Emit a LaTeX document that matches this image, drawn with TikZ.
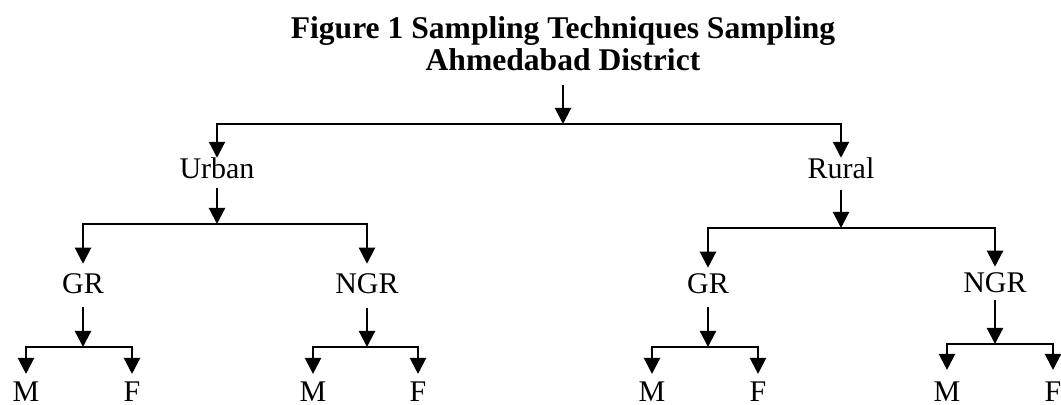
\documentclass[tikz,border=0pt]{standalone}
\usepackage{fontspec}
\setmainfont{Liberation Serif}
\usetikzlibrary{arrows.meta}

\begin{document}
\begin{tikzpicture}[x=0.5pt,y=0.5pt,
      lbl/.style={
        inner sep=0pt,
        anchor=base,
        font=\fontsize{15}{18}\selectfont
      },
      link/.style={
        -{Triangle[length=8pt,width=8pt]},
        line width=1.1pt
      }
    ]
    \clip (0,0) rectangle (1061,405);
    \node[inner sep=0pt,anchor=north,align=center,
      font=\fontsize{15.8}{16}\selectfont\bfseries] (title) at (563,389)
      {Figure 1 Sampling Techniques Sampling\\Ahmedabad District};
    % urban / rural
    \node[lbl] (urban) at (217,226) {Urban};
    \node[lbl] (rural) at (841,226) {Rural};
    \coordinate (j0) at (563,281);
    \draw[link,shorten <=7pt] (title) -- (j0);
    \draw[link] (j0) -| (urban);
    \draw[link] (j0) -| (rural);
    % GR / NGR
    \node[lbl] (ugr) at (83,111) {GR};
    \node[lbl] (ungr) at (367,111) {NGR};
    \node[lbl] (rgr) at (708,111) {GR};
    \node[lbl] (rngr) at (995,112) {NGR};
    \coordinate (ju) at (217,181);
    \coordinate (jr) at (841,177);
    \draw[link,shorten <=4pt] (urban) -- (ju);
    \draw[link,shorten <=5pt] (rural) -- (jr);
    \draw[link,shorten >=5pt] (ju) -| (ugr);
    \draw[link,shorten >=5pt] (ju) -| (ungr);
    \draw[link,shorten >=3pt] (jr) -| (rgr);
    \draw[link,shorten >=3pt] (jr) -| (rngr);
    % M / F
    \node[lbl] (ugrm) at (26,3) {M};
    \node[lbl] (ugrf) at (132,3) {F};
    \node[lbl] (ungrm) at (313,3) {M};
    \node[lbl] (ungrf) at (418,3) {F};
    \node[lbl] (rgrm) at (652,3) {M};
    \node[lbl] (rgrf) at (758,3) {F};
    \node[lbl] (rngrm) at (947,3) {M};
    \node[lbl] (rngrf) at (1053,3) {F};
    \coordinate (jugr) at (83,58);
    \coordinate (jungr) at (367,58);
    \coordinate (jrgr) at (708,58);
    \coordinate (jrngr) at (995,61);
    \draw[link,shorten <=6pt] (ugr) -- (jugr);
    \draw[link,shorten <=6.5pt] (ungr) -- (jungr);
    \draw[link,shorten <=6pt] (rgr) -- (jrgr);
    \draw[link,shorten <=3pt] (rngr) -- (jrngr);
    \draw[link,shorten >=4pt] (jugr) -| (ugrm);
    \draw[link,shorten >=4pt] (jugr) -| (ugrf);
    \draw[link,shorten >=4pt] (jungr) -| (ungrm);
    \draw[link,shorten >=4pt] (jungr) -| (ungrf);
    \draw[link,shorten >=4pt] (jrgr) -| (rgrm);
    \draw[link,shorten >=4pt] (jrgr) -| (rgrf);
    \draw[link,shorten >=6pt] (jrngr) -| (rngrm);
    \draw[link,shorten >=6pt] (jrngr) -| (rngrf);
  \end{tikzpicture}
\end{document}
